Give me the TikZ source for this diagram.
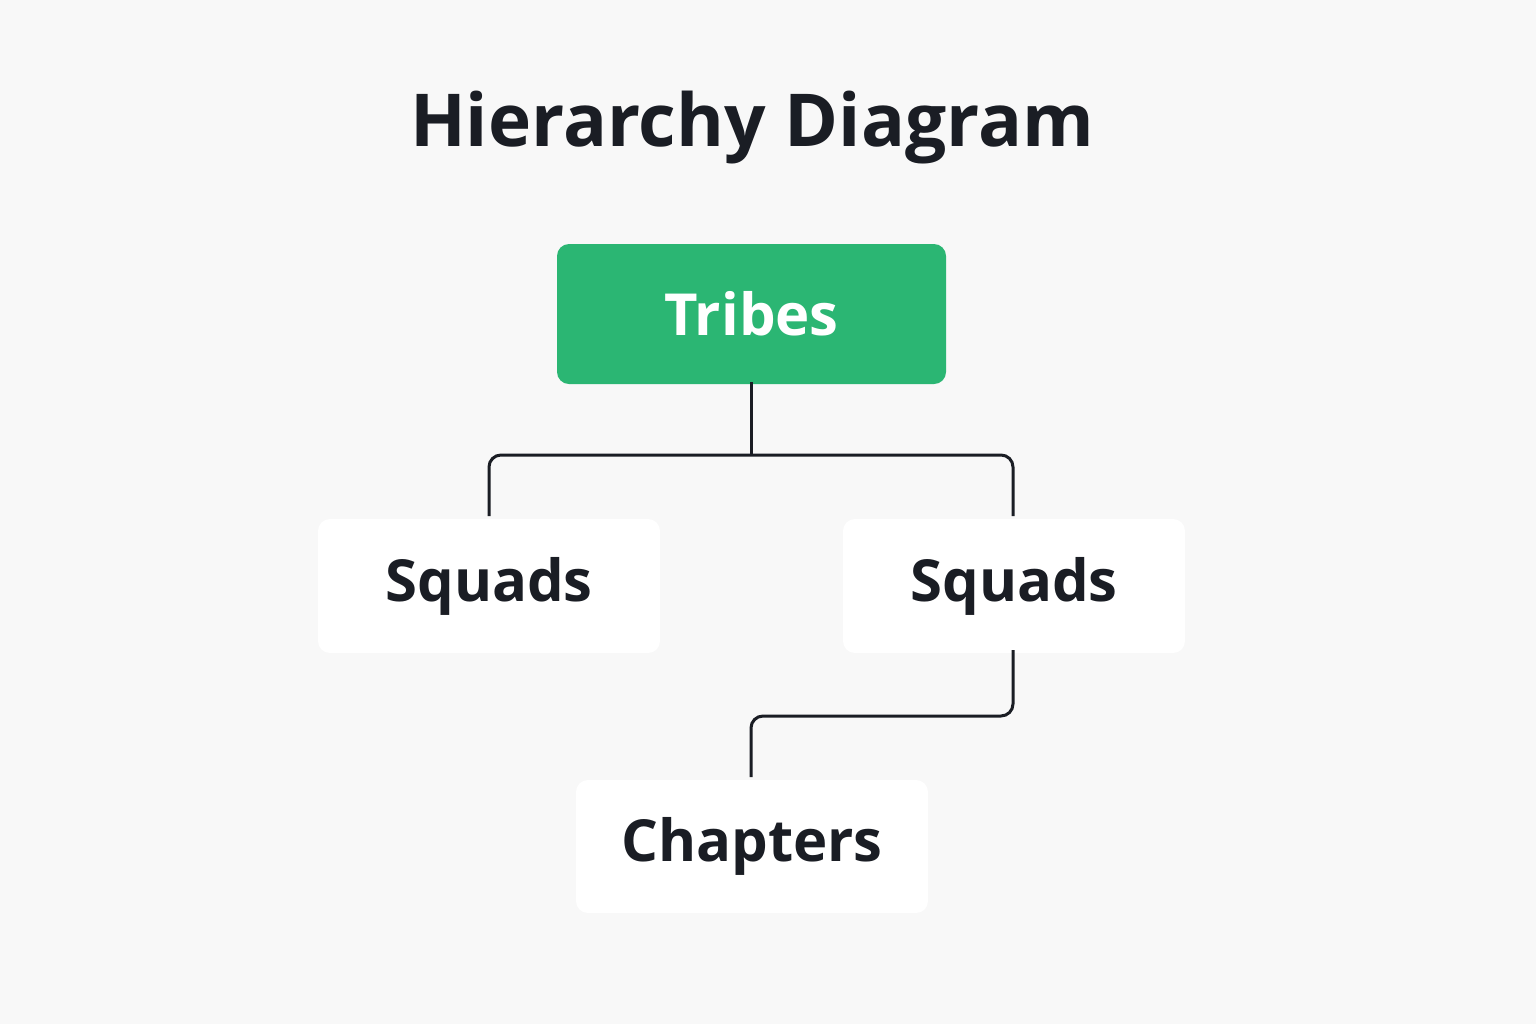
\documentclass[tikz,border=0pt]{standalone}
\usepackage{fontspec}
\setmainfont{Open Sans}
\definecolor{bg}{HTML}{F8F8F8}
\definecolor{ink}{HTML}{1A1D24}
\definecolor{tribe}{HTML}{2BB673}
\begin{document}
\begin{tikzpicture}[x=0.5pt,y=-0.5pt,
  box/.style={draw=none,fill=white,rounded corners=6pt,inner sep=0pt,font=\fontsize{29}{34}\selectfont\bfseries,text=ink},
  link/.style={draw=ink,line width=1.5pt,rounded corners=6pt}]
\fill[bg] (0,0) rectangle (1536,1024);
\useasboundingbox (0,0) rectangle (1536,1024);
\node[font=\fontsize{36.5}{44}\selectfont\bfseries,text=ink] (title) at (752,128) {Hierarchy Diagram};
\node[box,fill=tribe,text=white,minimum width=194.5pt,minimum height=70pt] (tribes) at (751.5,314) {Tribes};
\node[box,minimum width=171pt,minimum height=67pt] (sq1) at (489,586) {Squads};
\node[box,minimum width=171pt,minimum height=67pt] (sq2) at (1014,586) {Squads};
\node[box,minimum width=176pt,minimum height=66.5pt] (ch) at (752,846.5) {Chapters};
\coordinate (j) at (751,455);
\draw[link] (751,382) -- (j);
\draw[link] (489,516) -- (489,455) -- (1013,455) -- (1013,516);
\draw[link] (1013,650) -- (1013,716) -- (751,716) -- (751,777);
\end{tikzpicture}
\end{document}
